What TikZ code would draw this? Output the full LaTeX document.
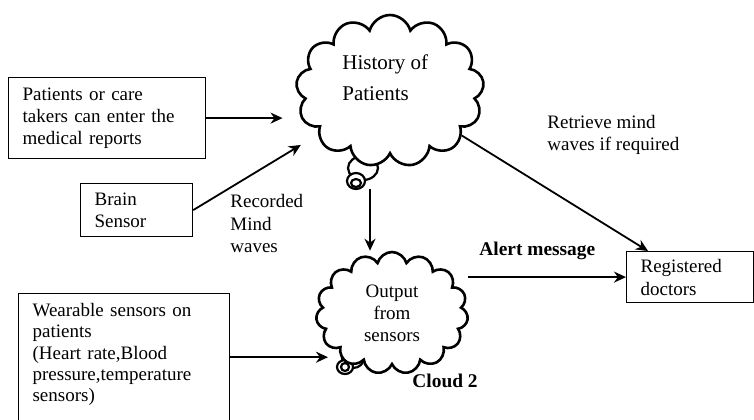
\documentclass[tikz,border=0pt]{standalone}
\usepackage{fontspec}
\setmainfont{Liberation Serif}
\usetikzlibrary{arrows.meta, positioning, shapes.symbols}

\begin{document}
\begin{tikzpicture}[
    x=0.5pt, y=-0.5pt,
    every node/.style={font=\fontsize{9.5}{11}\selectfont},
    box/.style={
        rectangle,
        draw,
        line width=0.6pt,
        anchor=north west,
        inner xsep=7pt,
        align=left
    },
    thought/.style={
        cloud,
        draw,
        fill=white,
        line width=1.3pt,
        cloud ignores aspect,
        inner sep=0pt,
        align=center
    },
    bubble/.style={draw, fill=white, line width=1.1pt},
    lbl/.style={inner sep=0pt, anchor=north west, align=left},
    tag/.style={inner sep=0pt, anchor=base west, font=\fontsize{9.7}{11}\selectfont\bfseries},
    arrow/.style={line width=0.9pt, -{Stealth[length=6pt, width=5.5pt]}}
]

\useasboundingbox (0,0) rectangle (754,419);
\clip (0,0) rectangle (754,419);

% thought bubbles under the clouds
\draw[bubble] (363,168) ellipse [x radius=15, y radius=12];
\draw[bubble] (356,181) ellipse [x radius=9, y radius=8];
\draw[bubble] (356,183) ellipse [x radius=5, y radius=4];
\draw[bubble] (353,358) ellipse [x radius=11, y radius=10];
\draw[bubble] (345,367) ellipse [x radius=8, y radius=7];
\draw[bubble] (345,367) ellipse [x radius=4, y radius=4];

\node[thought, cloud puffs=13, minimum width=94pt, minimum height=76pt] (hist) at (390,91) {};
\node[lbl, font=\fontsize{10.5}{15.5}\selectfont] (histtxt) at (342,54) {History of\\Patients};
\coordinate (histtail) at (370,189);

\node[thought, cloud puffs=15, minimum width=76pt, minimum height=61pt] (out) at (392,313) {Output\\from\\sensors};

\node[box, text width=84.5pt, minimum height=40.5pt] (pat) at (8,77) {Patients or care\\takers can enter the\\medical reports};
\node[box, text width=42pt, minimum height=26.5pt] (brain) at (80,183) {Brain\\Sensor};
\node[box, text width=91.5pt, inner ysep=5pt, text depth=47pt,
      font=\fontsize{9.5}{10.6}\selectfont] (wear) at (18,293) {Wearable sensors on\\patients\\(Heart rate,Blood\\pressure,temperature\\sensors)};
\node[box, text width=49.5pt, minimum height=25.5pt,
      font=\fontsize{9.5}{11.5}\selectfont] (doc) at (626,251) {Registered\\doctors};

\node[lbl, font=\fontsize{9.5}{11.3}\selectfont] (rec) at (230,194) {Recorded\\Mind\\waves};
\node[lbl] (retr) at (547,115) {Retrieve mind\\waves if required};
\node[tag] (alert) at (479,255) {Alert message};
\node[tag] (cl2) at (412,387) {Cloud 2};

\draw[arrow, shorten >=7pt] (pat.east) -- (pat.east -| hist.west);
\draw[arrow, shorten >=10pt] (brain.east) -- (hist);
\draw[arrow] (histtail) -- (histtail |- out.north);
\draw[arrow, shorten >=-6pt] (wear.east) -- (wear.east -| out.west);
\draw[arrow] (out.east |- doc.west) -- (doc.west);
\draw[arrow] (hist) -- ([xshift=11pt]doc.north west);

\end{tikzpicture}
\end{document}
